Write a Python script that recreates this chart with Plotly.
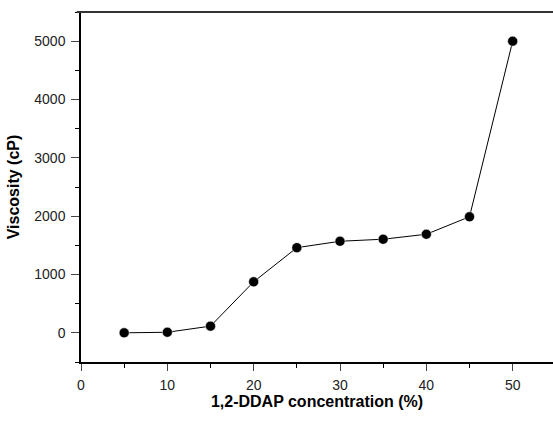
import plotly.graph_objects as go

concentration = [5, 10, 15, 20, 25, 30, 35, 40, 45, 50]
viscosity = [0, 10, 115, 875, 1460, 1570, 1605, 1690, 1990, 5000]

x_ticks = [0, 10, 20, 30, 40, 50]
y_ticks = [0, 1000, 2000, 3000, 4000, 5000]

fig = go.Figure()
fig.add_trace(go.Scatter(
    x=concentration, y=viscosity, mode="lines+markers",
    line=dict(color="black", width=1),
    marker=dict(color="black", size=10, line=dict(color="white", width=0.5)),
    showlegend=False, cliponaxis=False,
))

font_family = "Liberation Sans, Arial, sans-serif"
fig.update_layout(
    width=553, height=427,
    margin=dict(l=81, r=0, t=12, b=65),
    paper_bgcolor="white", plot_bgcolor="white",
    font=dict(family=font_family, color="black", size=14),
    xaxis=dict(
        range=[0, 54.67], tickvals=x_ticks, ticks="outside", ticklen=7, tickwidth=1.2,
        showline=True, linecolor="black", linewidth=1.5, mirror=False,
        showgrid=False, zeroline=False,
        minor=dict(dtick=5, ticks="outside", ticklen=4, tickcolor="black", tickwidth=1.2),
        title=dict(text="<b>1,2-DDAP concentration (%)</b>", font=dict(size=16), standoff=1),
        tickfont=dict(size=14, color="#222"),
        ticklabelstandoff=2,
    ),
    yaxis=dict(
        range=[-500, 5500], tickvals=y_ticks, ticks="outside", ticklen=8, tickwidth=1.2,
        showline=True, linecolor="black", linewidth=1.5,
        showgrid=False, zeroline=False,
        minor=dict(dtick=500, ticks="outside", ticklen=4, tickcolor="black", tickwidth=1.2),
        title=dict(text="<b>Viscosity (cP)</b>", font=dict(size=16), standoff=11),
        tickfont=dict(size=14, color="#222"),
        ticklabelstandoff=3,
    ),
    shapes=[dict(type="line", xref="paper", yref="paper", x0=-0.009, x1=1.0, y0=1, y1=1,
                 line=dict(color="#333", width=1.8))],
)

fig.write_html(
    "out.html",
    config={"displayModeBar": False},
    post_script="document.body.style.margin='0';document.body.style.overflow='hidden';",
)
